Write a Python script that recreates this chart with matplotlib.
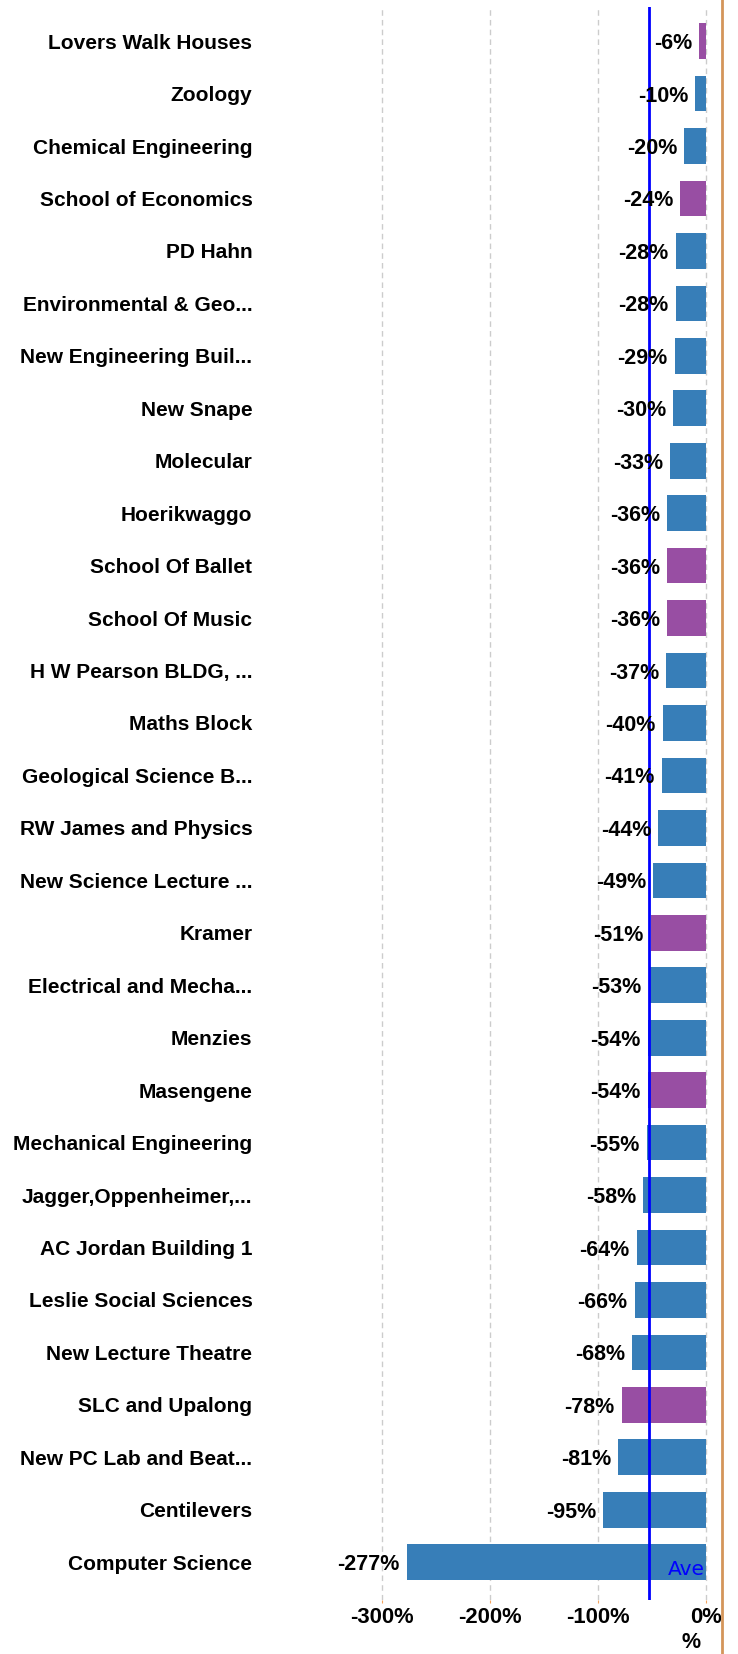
import numpy as np
import matplotlib
matplotlib.use("Agg")
import matplotlib.pyplot as plt
from matplotlib.lines import Line2D

# building names (top to bottom) and change in %
buildings = [
    "Lovers Walk Houses", "Zoology", "Chemical Engineering", "School of Economics",
    "PD Hahn", "Environmental & Geo...", "New Engineering Buil...", "New Snape",
    "Molecular", "Hoerikwaggo", "School Of Ballet", "School Of Music",
    "H W Pearson BLDG, ...", "Maths Block", "Geological Science B...",
    "RW James and Physics", "New Science Lecture ...", "Kramer",
    "Electrical and Mecha...", "Menzies", "Masengene", "Mechanical Engineering",
    "Jagger,Oppenheimer,...", "AC Jordan Building 1", "Leslie Social Sciences",
    "New Lecture Theatre", "SLC and Upalong", "New PC Lab and Beat...",
    "Centilevers", "Computer Science",
]
change = [-6, -10, -20, -24, -28, -28, -29, -30, -33, -36, -36, -36, -37, -40, -41,
          -44, -49, -51, -53, -54, -54, -55, -58, -64, -66, -68, -78, -81, -95, -277]
# residences highlighted in purple
residence = ["Lovers Walk Houses", "School of Economics", "School Of Ballet",
             "School Of Music", "Kramer", "Masengene", "SLC and Upalong"]
xticks = [-300, -200, -100, 0]

BLUE = "#377eb8"
PURPLE = "#984ea3"

plt.rcParams['font.family'] = ['Liberation Sans', 'DejaVu Sans']

W, H = 738, 1654
fig = plt.figure(figsize=(W / 100, H / 100), dpi=100)

# axes placed in pixels
left_px, right_px, top_px, bot_px = 349.6, 721, 7, 1600
ax = fig.add_axes([left_px / W, (H - bot_px) / H,
                   (right_px - left_px) / W, (bot_px - top_px) / H])

y = np.arange(len(buildings))
colors = [PURPLE if b in residence else BLUE for b in buildings]
ax.barh(y, change, height=0.68, color=colors, zorder=2)

for yi, v in zip(y, change):
    ax.annotate(f"{v}%", (v, yi), xytext=(-5, 0), textcoords="offset points",
                ha="right", va="center_baseline", fontsize=15.5, fontweight="bold",
                color="black", zorder=4)

avg = np.mean(change)
ax.axvline(avg, color="#0000ff", lw=2, zorder=3)
ax.annotate("Ave", (0, len(buildings) - 1), xytext=(-1, -5),
            textcoords="offset points", ha="right", va="center",
            fontsize=14.5, color="#0000ff", family="DejaVu Sans", zorder=4)

ax.set_xlim(-330, 14)
ax.set_ylim(len(buildings) - 0.28, -0.65)

ax.set_yticks(y)
ax.set_yticklabels(buildings, fontsize=15, fontweight="bold")
ax.tick_params(axis="y", length=0, pad=70)

ax.set_xticks(xticks)
ax.set_xticklabels([f"{t}%" for t in xticks], fontsize=15.8, fontweight="bold")
ax.tick_params(axis="x", length=2, color="#f4a460", pad=3)
ax.set_xlabel("%", fontsize=15.5, fontweight="bold")
ax.xaxis.set_label_coords((691 - left_px) / (right_px - left_px),
                          -(1643 - bot_px) / (bot_px - top_px))
ax.xaxis.label.set_va("center")

ax.grid(axis="x", color="#cccccc", linestyle=(0, (4, 3)), lw=1, zorder=0)
for s in ax.spines.values():
    s.set_visible(False)

# orange border on the right, full height
fig.add_artist(Line2D([721.5 / W, 721.5 / W], [0, 1], transform=fig.transFigure,
                      color="#d4955a", lw=2))

fig.savefig("out.png", dpi=100)
